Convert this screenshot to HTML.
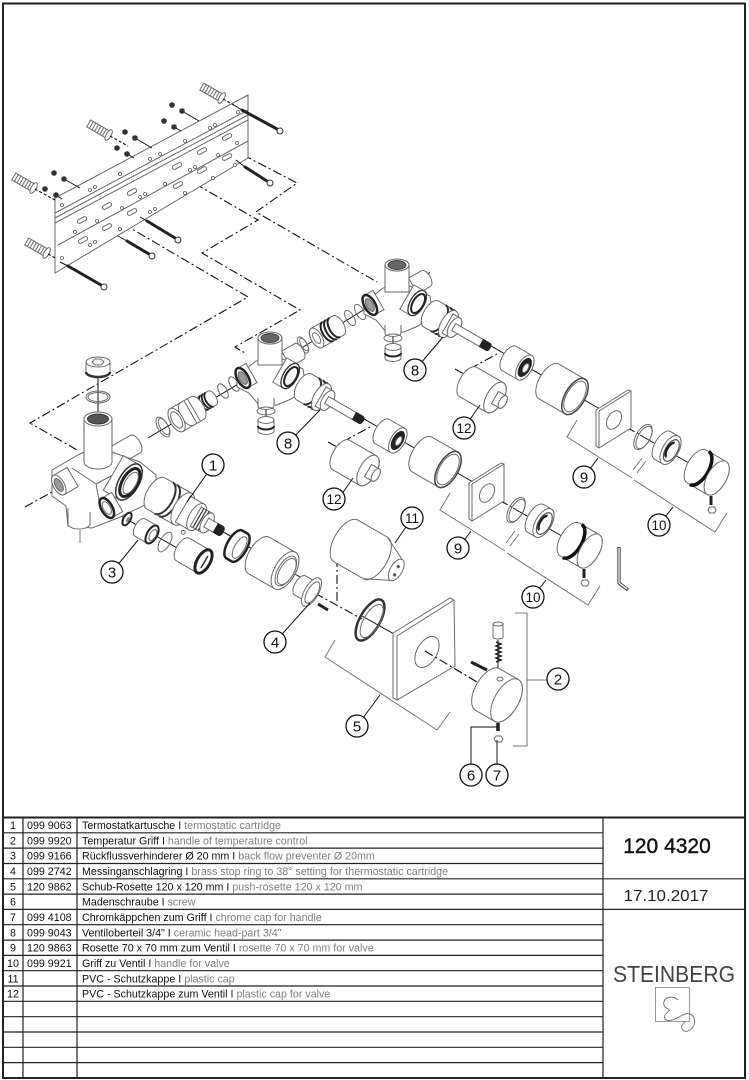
<!DOCTYPE html>
<html><head><meta charset="utf-8"><style>
html,body{margin:0;padding:0;background:#fff}
svg{display:block}
.o{fill:#fff;stroke:#6a6a6a;stroke-width:1}
.n{fill:none;stroke:#6a6a6a;stroke-width:1}
.d{fill:none;stroke:#111;stroke-width:1.1;stroke-dasharray:9 3 2 3}
.k{fill:none;stroke:#111;stroke-width:1}
.g{fill:none;stroke:#777;stroke-width:1}
.c circle{fill:#fff;stroke:#111;stroke-width:1.3}
.c text{font-family:"Liberation Sans",Arial,sans-serif;font-size:15px;fill:#111;text-anchor:middle}
.c text.s{font-size:13.5px}
.t{font-family:"Liberation Sans",Arial,sans-serif;font-size:10.7px;fill:#111}
.e{fill:#808080}
</style></head><body>
<svg width="749" height="1080" viewBox="0 0 749 1080" xmlns="http://www.w3.org/2000/svg">
<rect x="0" y="0" width="749" height="1080" fill="#fff"/>

<!-- ===== dashed routing lines ===== -->
<path class="d" d="M228,147 L297,183 L256,212 L377,282"/>
<path class="d" d="M180,175 L258,220 L202,253 L300,310 L235,347 L245,353"/>
<path class="d" d="M108,215 L248,297 L30,423 L77,450"/>
<path class="d" d="M25,507 L52,492"/>
<path class="d" d="M422,277 L431,272"/>
<path class="d" d="M347,540 L337,535 L337,603"/>
<path class="d" d="M300,585 L362,619"/>
<path class="d" d="M425,651 L482,685"/>

<!-- axis lines -->
<path class="k" d="M140,483 L300,577 M362,616 L428,653"/>
<path class="k" d="M107,508 L200,561"/>
<path class="k" d="M148,438 L245,380"/>
<path class="k" d="M295,352 L370,306"/>
<path class="k" d="M98,367 V420"/>

<!-- ===== wall bracket ===== -->
<path class="o" d="M55,198 L248,95 L248,158 L55,273 Z"/>
<path class="n" d="M55,213 L248,110 M55,218 L248,115 M55,223 L248,120 M58,245 L248,141"/>
<g class="o">
<rect x="-5" y="-2" width="10" height="4" rx="2" transform="translate(227,137) rotate(-28)"/>
<rect x="-5" y="-2" width="10" height="4" rx="2" transform="translate(202,151) rotate(-28)"/>
<rect x="-5" y="-2" width="10" height="4" rx="2" transform="translate(177,166) rotate(-28)"/>
<rect x="-5" y="-2" width="10" height="4" rx="2" transform="translate(132,192) rotate(-28)"/>
<rect x="-5" y="-2" width="10" height="4" rx="2" transform="translate(107,206) rotate(-28)"/>
<rect x="-5" y="-2" width="10" height="4" rx="2" transform="translate(82,220) rotate(-28)"/>
<rect x="-5" y="-2" width="10" height="4" rx="2" transform="translate(227,157) rotate(-28)"/>
<rect x="-5" y="-2" width="10" height="4" rx="2" transform="translate(202,170) rotate(-28)"/>
<rect x="-5" y="-2" width="10" height="4" rx="2" transform="translate(178,185) rotate(-28)"/>
<rect x="-5" y="-2" width="10" height="4" rx="2" transform="translate(132,212) rotate(-28)"/>
<rect x="-5" y="-2" width="10" height="4" rx="2" transform="translate(107,227) rotate(-28)"/>
<rect x="-5" y="-2" width="10" height="4" rx="2" transform="translate(83,240) rotate(-28)"/>
</g>
<g fill="#fff" stroke="#555" stroke-width="0.8">
<circle cx="62" cy="205" r="1.5"/><circle cx="90" cy="190" r="1.5"/><circle cx="95" cy="187" r="1.5"/><circle cx="120" cy="174" r="1.5"/><circle cx="150" cy="159" r="1.5"/><circle cx="160" cy="154" r="1.5"/><circle cx="185" cy="141" r="1.5"/><circle cx="210" cy="128" r="1.5"/><circle cx="215" cy="125" r="1.5"/><circle cx="238" cy="112" r="1.5"/>
<circle cx="75" cy="232" r="1.5"/><circle cx="97" cy="221" r="1.5"/><circle cx="122" cy="208" r="1.5"/><circle cx="140" cy="197" r="1.5"/><circle cx="145" cy="194" r="1.5"/><circle cx="165" cy="184" r="1.5"/><circle cx="190" cy="170" r="1.5"/><circle cx="195" cy="167" r="1.5"/><circle cx="218" cy="155" r="1.5"/><circle cx="237" cy="143" r="1.5"/>
<circle cx="62" cy="258" r="1.5"/><circle cx="90" cy="245" r="1.5"/><circle cx="95" cy="242" r="1.5"/><circle cx="120" cy="229" r="1.5"/><circle cx="150" cy="212" r="1.5"/><circle cx="155" cy="209" r="1.5"/><circle cx="185" cy="193" r="1.5"/><circle cx="213" cy="178" r="1.5"/><circle cx="235" cy="165" r="1.5"/>
</g>

<!-- screws -->
<path class="k" d="M232,104 L242,110 M236,160 L245,167 M140,217 L147,221 M118,236 L127,241 M60,262 L68,266"/>
<path d="M242,110 L277,129 M245,167 L267,181 M147,221 L175,238 M127,241 L149,254 M68,266 L101,285" stroke="#222" stroke-width="3" stroke-linecap="round" fill="none"/>
<g fill="#fff" stroke="#333" stroke-width="1">
<circle cx="280" cy="131" r="3"/><circle cx="270" cy="183" r="3"/><circle cx="178" cy="240" r="3"/><circle cx="152" cy="256" r="3"/><circle cx="104" cy="287" r="3"/>
</g>
<!-- nuts -->
<path class="k" d="M182,111 L199,121 M174,127 L181,131 M135,138 L152,148 M127,154 L134,158 M64,179 L80,188 M56,195 L62,199"/>
<g fill="#333">
<circle cx="172" cy="105" r="2.8"/><circle cx="182" cy="111" r="2.8"/>
<circle cx="164" cy="121" r="2.8"/><circle cx="174" cy="127" r="2.8"/>
<circle cx="125" cy="132" r="2.8"/><circle cx="135" cy="138" r="2.8"/>
<circle cx="117" cy="148" r="2.8"/><circle cx="127" cy="154" r="2.8"/>
<circle cx="54" cy="173" r="2.8"/><circle cx="64" cy="179" r="2.8"/>
<circle cx="45" cy="189" r="2.8"/><circle cx="56" cy="195" r="2.8"/>
</g>
<!-- anchors -->
<g class="o" transform="translate(213,93) rotate(30)"><rect x="-13" y="-4" width="22" height="8"/><path class="n" d="M-10,-4V4M-7,-4V4M-4,-4V4M-1,-4V4M2,-4V4M5,-4V4"/><ellipse cx="10" rx="2.5" ry="6"/></g>
<g class="o" transform="translate(100,130) rotate(30)"><rect x="-13" y="-4" width="22" height="8"/><path class="n" d="M-10,-4V4M-7,-4V4M-4,-4V4M-1,-4V4M2,-4V4M5,-4V4"/><ellipse cx="10" rx="2.5" ry="6"/></g>
<g class="o" transform="translate(25,183) rotate(30)"><rect x="-13" y="-4" width="22" height="8"/><path class="n" d="M-10,-4V4M-7,-4V4M-4,-4V4M-1,-4V4M2,-4V4M5,-4V4"/><ellipse cx="10" rx="2.5" ry="6"/></g>
<g class="o" transform="translate(38,248) rotate(30)"><rect x="-13" y="-4" width="22" height="8"/><path class="n" d="M-10,-4V4M-7,-4V4M-4,-4V4M-1,-4V4M2,-4V4M5,-4V4"/><ellipse cx="10" rx="2.5" ry="6"/></g>
<path class="d" d="M223,99 L234,105 M110,136 L128,146 M35,189 L55,200 M48,254 L57,259" style="stroke-dasharray:3 2"/>

<!-- ===== left thermostat body ===== -->
<g class="o">
<path transform="translate(125,450) rotate(-30)" d="M-14,-10 H12 A5,10 0 0 1 12,10 H-14 Z"/>
<path d="M52,470 L78,455 L84,452 L112,452 L140,462 L156,475 L156,492 L145,505 L118,518 L92,528 L68,526 L66,506 L52,496 Z"/>
<path class="n" d="M72,468 L96,484 L100,505 M96,484 L122,470"/>
<path d="M84,419 V462 A14,7 0 0 0 112,462 V419 Z"/>
<ellipse cx="98" cy="419" rx="14" ry="7"/>
<ellipse cx="98" cy="419" rx="10.5" ry="5" style="fill:#555;stroke:#333"/>
<g transform="translate(64,482) rotate(-30) scale(-1,1)"><path d="M-10,-11 H6 A5.5,11 0 0 1 6,11 H-10 Z"/><ellipse cx="6" rx="5.5" ry="11"/><ellipse cx="6" rx="3.5" ry="7" style="fill:#999"/></g>
<g transform="translate(122,478) rotate(30)"><path d="M-10,-20 H8 A10,20 0 0 1 8,20 H-10 Z"/><ellipse cx="8" rx="10" ry="20" style="stroke:#333;stroke-width:1.5"/><ellipse cx="9" rx="7.5" ry="15.5" style="fill:none;stroke:#222;stroke-width:3"/><ellipse cx="10" rx="5.5" ry="12" class="n"/></g>
<g transform="translate(112,505) rotate(-30) scale(-1,1)"><path d="M-6,-11 H6 A5.5,11 0 0 1 6,11 H-6 Z"/><ellipse cx="6" rx="5.5" ry="11" style="stroke:#222;stroke-width:2.5"/><ellipse cx="6" rx="3.5" ry="7"/></g>
<path d="M68,508 V524 A11,5 0 0 0 90,524 V512"/>
</g>
<path class="g" d="M80,530 V543"/>
<!-- top cap and ring -->
<g class="o">
<path d="M86,362 V372 A12,5 0 0 0 110,372 V362 Z"/>
<ellipse cx="98" cy="362" rx="12" ry="5"/>
<path d="M92,362 L95,359 L101,359 L104,362 L101,365 L95,365 Z"/>
<path d="M86,372 A12,5 0 0 0 110,372" style="fill:none;stroke:#333;stroke-width:2.5"/>
</g>
<ellipse cx="98" cy="397" rx="12" ry="6" class="n"/>
<ellipse cx="98" cy="397" rx="10" ry="4.5" class="n"/>

<!-- chain E (left body to mid body) -->
<ellipse class="n" transform="translate(163,427) rotate(-30)" rx="5" ry="11"/>
<ellipse class="n" transform="translate(164,426.5) rotate(-30)" rx="4" ry="9"/>
<g class="o" transform="translate(207,401) rotate(-30) scale(-1,1)"><path d="M-6,-8H6A4,8 0 0 1 6,8H-6A4,8 0 0 1 -6,-8Z"/><path d="M-3,-8A4,8 0 0 1 -3,8M0,-8A4,8 0 0 1 0,8M3,-8A4,8 0 0 1 3,8" style="fill:none;stroke:#222;stroke-width:1.8"/></g>
<g class="o" transform="translate(187,414) rotate(-30) scale(-1,1)"><path d="M-12,-13H12A6.5,13 0 0 1 12,13H-12A6.5,13 0 0 1 -12,-13Z"/><path class="n" d="M-4,-13V13M-8,-13V13M0,-13A6.5,13 0 0 1 0,13"/><ellipse cx="12" rx="6.5" ry="13"/><ellipse cx="12" rx="4.5" ry="9"/></g>
<ellipse class="n" transform="translate(223,391) rotate(-30)" rx="4" ry="8"/>
<ellipse class="n" transform="translate(234,384) rotate(-30)" rx="4" ry="8"/>

<!-- chain F (mid body to upper right body) -->
<ellipse class="n" transform="translate(303,345) rotate(-30)" rx="4" ry="9"/>
<ellipse class="n" transform="translate(304,344.5) rotate(-30)" rx="3" ry="7"/>
<g class="o" transform="translate(327,332) rotate(-30) scale(-1,1)"><path d="M-13,-11H12A5.5,11 0 0 1 12,11H-13A5.5,11 0 0 1 -13,-11Z"/><path d="M-9,-11A5.5,11 0 0 1 -9,11M-5,-11A5.5,11 0 0 1 -5,11M-1,-11A5.5,11 0 0 1 -1,11" style="fill:none;stroke:#222;stroke-width:2"/><ellipse cx="12" rx="5.5" ry="11"/><ellipse cx="12" rx="3" ry="6"/></g>
<ellipse class="n" transform="translate(350,318) rotate(-30)" rx="4" ry="8.5"/>
<ellipse class="n" transform="translate(360,312) rotate(-30)" rx="4" ry="8.5"/>

<!-- ===== valve unit (upper right), duplicated for mid ===== -->
<g id="V">
<path class="k" d="M393,320 V352"/>
<path class="k" d="M417,303 L600,409 M640,435 L708,474"/>
<path class="d" d="M612,419 L642,436"/>
<path class="d" d="M455,369 L462,373 L497,354"/>
<g class="o">
<path transform="translate(420,282) rotate(-30)" d="M-8,-9 H7 A4.5,9 0 0 1 7,9 H-8Z"/>
<path d="M364,303 L383,288 L410,286 L430,296 L433,316 L418,326 L404,332 L386,332 L376,320 L364,314 Z"/>
<path d="M385,265 V292 H409 V265 Z"/>
<ellipse cx="397" cy="265" rx="12" ry="6"/>
<ellipse cx="397" cy="265" rx="9" ry="4.5" style="fill:#666;stroke:#444"/>
<g transform="translate(412,300) rotate(30)"><path d="M-6,-14 H6 A7,14 0 0 1 6,14 H-6Z"/><ellipse cx="6" rx="7" ry="14" style="stroke:#333;stroke-width:1.3"/><ellipse cx="7" rx="5.3" ry="10.5" style="fill:none;stroke:#222;stroke-width:2"/></g>
<g transform="translate(375,302) rotate(-30) scale(-1,1)"><path d="M-4,-11 H6 A5.5,11 0 0 1 6,11 H-4Z"/><ellipse cx="6" rx="5.5" ry="11" style="stroke:#222;stroke-width:2.5"/><ellipse cx="6" rx="3.5" ry="7" style="fill:#999"/></g>
<path d="M385,325 V333 A8,3.5 0 0 0 401,333 V325"/>
</g>
<ellipse cx="393" cy="338" rx="9" ry="4" class="n"/>
<g class="o"><path d="M385,347 V358 A8,3.5 0 0 0 401,358 V347Z"/><ellipse cx="393" cy="347" rx="8" ry="3.5"/><path d="M385,353 A8,3.5 0 0 0 401,353" style="fill:none;stroke:#222;stroke-width:2"/></g>
<!-- cartridge 8 -->
<g class="o" transform="translate(445,322) rotate(30)">
<path d="M-16,-15H4A7.5,15 0 0 1 4,15H-16A7.5,15 0 0 1 -16,-15Z"/>
<path d="M-8,-15A7.5,15 0 0 1 -8,15M-3,-15A7.5,15 0 0 1 -3,15M1,-15A7.5,15 0 0 1 1,15" style="fill:none;stroke:#333;stroke-width:2"/>
<ellipse cx="4" rx="7.5" ry="15"/>
<path d="M3,-11H11A5.5,11 0 0 1 11,11H3Z"/>
<ellipse cx="11" rx="5.5" ry="11"/>
<path d="M10,-4H50A2,4 0 0 1 50,4H10Z"/>
<path d="M42,-4H50A2,4 0 0 1 50,4H42Z" style="fill:#222;stroke:#222"/>
</g>
<!-- nut -->
<g class="o" transform="translate(517,363) rotate(30)"><path d="M-9,-14H9A7,14 0 0 1 9,14H-9A7,14 0 0 1 -9,-14Z"/><ellipse cx="9" rx="7" ry="14"/><ellipse cx="9" rx="5" ry="10" style="fill:#222;stroke:#222"/><ellipse cx="10" rx="2.5" ry="5"/></g>
<!-- sleeve -->
<g class="o" transform="translate(562,389) rotate(30)"><path d="M-15,-20H15A10,20 0 0 1 15,20H-15A10,20 0 0 1 -15,-20Z"/><ellipse cx="15" rx="10" ry="20" style="stroke:#444;stroke-width:1.5"/><ellipse cx="15" rx="8.5" ry="17" class="n"/></g>
<!-- PVC cap 12 -->
<g class="o" transform="translate(482,390) rotate(30)"><path d="M-16,-17H15A8.5,17 0 0 1 15,17H-16A8.5,17 0 0 1 -16,-17Z"/><ellipse cx="15" rx="8.5" ry="17" class="n"/><path d="M15,-7H24A3.5,7 0 0 1 24,7H15Z"/><ellipse cx="24" rx="3.5" ry="7"/></g>
<!-- rosette 9 -->
<path class="o" d="M596,410 L628,390 L631,391 L631,428 L599,448 L596,446 Z"/>
<path class="n" d="M599,411 L631,391 M599,411 L599,448"/>
<ellipse class="o" transform="translate(614,420) rotate(30)" rx="6.5" ry="10"/>
<!-- ring -->
<ellipse class="n" transform="translate(643,437) rotate(30)" rx="7" ry="14"/>
<ellipse class="n" transform="translate(644,437.5) rotate(30)" rx="6" ry="12.5"/>
<!-- escutcheon -->
<g class="o" transform="translate(667,448) rotate(30)"><path d="M-5,-16H4A8,16 0 0 1 4,16H-5A8,16 0 0 1 -5,-16Z"/><ellipse cx="4" rx="8" ry="16"/><ellipse cx="5" rx="6" ry="12" style="stroke:#555;stroke-width:1.2"/><path d="M4,-8 A3.5,8 0 0 0 4,8" style="fill:none;stroke:#222;stroke-width:2.5"/></g>
<!-- handle 10 -->
<g class="o" transform="translate(708,473) rotate(30)"><path d="M-13,-19H10A9.5,19 0 0 1 10,19H-13A9.5,19 0 0 1 -13,-19Z"/><path d="M-10,-19A9.5,19 0 0 1 -10,19" style="fill:none;stroke:#111;stroke-width:3.5"/><ellipse cx="10" rx="9.5" ry="19"/></g>
<path d="M711,496 V505" stroke="#222" stroke-width="3"/>
<path class="o" d="M709.5,507 L714.5,507 L716,510 L714.5,513 L709.5,513 L708,510 Z"/>
<!-- brackets 9/10 -->
<path class="g" d="M577,420 L567,437 L632,478 M633,470 L642,458 M637,473 L646,461 M634,480 L715,532 L727,513"/>
</g>
<use href="#V" transform="translate(-127,73)"/>

<!-- ===== thermostat chain (A) ===== -->
<g class="o" transform="translate(188,512) rotate(30)">
<path d="M-37,-18H-6A9,18 0 0 1 -6,18H-37A9,18 0 0 1 -37,-18Z"/>
<path d="M-28,-18A9,18 0 0 1 -28,18M-23,-18A9,18 0 0 1 -23,18" style="fill:none;stroke:#333;stroke-width:2"/>
<ellipse cx="-6" rx="9" ry="18"/>
<path d="M-6,-15H10A7.5,15 0 0 1 10,15H-6Z"/>
<ellipse cx="10" rx="7.5" ry="15"/>
<path d="M9,-11H22A5.5,11 0 0 1 22,11H9Z"/>
<path d="M12,-11V11M15,-11V11M18,-11V11" style="fill:none;stroke:#333;stroke-width:1.2"/>
<ellipse cx="22" rx="5.5" ry="11"/>
<path d="M21,-5H38A2.5,5 0 0 1 38,5H21Z"/>
<path d="M32,-5H38A2.5,5 0 0 1 38,5H32Z" style="fill:#222;stroke:#222"/>
<circle cx="6" cy="20" r="2"/>
</g>
<g transform="translate(237,546) rotate(30)"><path class="o" d="M-3,-16H3A7,16 0 0 1 3,16H-3A7,16 0 0 1 -3,-16Z" style="stroke:#222;stroke-width:2.5"/><ellipse cx="3" rx="5" ry="12" class="o"/></g>
<g class="o" transform="translate(272,563) rotate(30)"><path d="M-15,-21H15A10.5,21 0 0 1 15,21H-15A10.5,21 0 0 1 -15,-21Z"/><ellipse cx="15" rx="10.5" ry="21"/><ellipse cx="16" rx="8" ry="16.5"/><ellipse cx="17" rx="7" ry="14.5" class="n"/></g>
<g class="o" transform="translate(308,590) rotate(30)"><path d="M-9,-11H2A5.5,11 0 0 1 2,11H-9A5.5,11 0 0 1 -9,-11Z"/><ellipse cx="4" rx="7" ry="16"/><ellipse cx="5" rx="5" ry="12"/></g>
<path d="M318,604 L328,610" stroke="#222" stroke-width="3"/>
<g transform="translate(370,620) rotate(30)"><ellipse rx="10" ry="23" fill="none" stroke="#333" stroke-width="2.5"/><ellipse cx="2" rx="8" ry="18.5" class="n"/></g>
<!-- rosette 5 -->
<path class="o" d="M393,633 L450,598 L454,600 L455,666 L397,700 L393,698 Z"/>
<path class="n" d="M397,636 L454,600 M397,636 L397,700"/>
<ellipse class="n" transform="translate(427,652) rotate(30)" rx="10" ry="17"/>
<path class="d" d="M425,651 L482,685"/>
<!-- handle 2 -->
<path class="k" d="M498,640 V680"/>
<g class="o" transform="translate(497,695) rotate(30)"><path d="M-11,-24H11A12,24 0 0 1 11,24H-11A12,24 0 0 1 -11,-24Z"/><ellipse cx="11" rx="12" ry="24"/></g>
<ellipse class="o" cx="500" cy="679" rx="3" ry="2"/>
<path class="o" d="M493,624 V637 A5,2 0 0 0 503,637 V624 Z"/>
<ellipse class="o" cx="498" cy="624" rx="5" ry="2"/>
<path d="M496,642 L501,644 L496,646 L501,648 L496,650 L501,652 L496,654 L501,656 L496,658 L501,660 L496,662" stroke="#222" stroke-width="1.5" fill="none"/>
<path d="M471,662 L487,670" stroke="#222" stroke-width="3"/>
<path d="M498,723 V731" stroke="#222" stroke-width="3.5"/>
<path class="o" d="M496,736 L501,736 L503,739 L501,742 L496,742 L494,739 Z"/>
<!-- PVC cap 11 -->
<g class="o" transform="translate(372,556) rotate(30)">
<path d="M-30,-24 H4 L28,-12 L28,12 L4,24 H-30 A12,24 0 0 1 -30,-24 Z"/>
<path class="n" d="M4,-24 A12,24 0 0 1 4,24"/>
<ellipse cx="28" rx="6" ry="12"/>
<circle cx="28" cy="-4" r="1.2" style="fill:#333"/><circle cx="29" cy="5" r="1.2" style="fill:#333"/>
</g>

<!-- back-flow chain (3) -->
<g transform="translate(127,519) rotate(30)"><ellipse rx="3.5" ry="7" fill="#fff" stroke="#222" stroke-width="2"/><ellipse cx="1" rx="1.5" ry="3" fill="#888"/></g>
<g class="o" transform="translate(146,531) rotate(30)"><path d="M-7,-10H7A5,10 0 0 1 7,10H-7A5,10 0 0 1 -7,-10Z"/><ellipse cx="7" rx="5" ry="10" style="stroke:#222;stroke-width:2"/><ellipse cx="8" rx="3" ry="6"/></g>
<ellipse class="n" transform="translate(165,542) rotate(30)" rx="5" ry="11"/>
<g class="o" transform="translate(194,556) rotate(30)"><path d="M-13,-13H11A6.5,13 0 0 1 11,13H-13A6.5,13 0 0 1 -13,-13Z"/><ellipse cx="11" rx="6.5" ry="13" style="stroke:#222;stroke-width:3"/><path d="M12,-7 L12,7" style="fill:none;stroke:#333;stroke-width:1.5"/></g>

<!-- brackets 5 and 2 -->
<path class="g" d="M335,640 L325,657 L437,730 L450,712"/>
<path class="g" d="M515,613 H527 V746 H513 M527,680 H547"/>

<!-- allen key -->
<path d="M619,547 V583 L628,590" stroke="#555" stroke-width="3.5" fill="none" stroke-linejoin="round"/>
<path d="M619,548 V583 L627,589" stroke="#fff" stroke-width="1.2" fill="none"/>

<!-- ===== leader lines ===== -->
<path class="k" d="M213,465 L187,502 M112,572 L138,540 M275,642 L310,603 M288,443 L320,410 M415,370 L443,337 M464,428 L480,405 M337,501 L353,478 M412,518 L395,543 M584,477 L598,458 M457,550 L471,531 M659,525 L673,507 M532,598 L546,580 M357,726 L380,695 M471,764 V727 H497 M497,764 V740"/>

<!-- ===== callouts ===== -->
<g class="c">
<circle cx="213" cy="465" r="11"/><text x="213" y="470.5">1</text>
<circle cx="558" cy="679" r="11"/><text x="558" y="684.5">2</text>
<circle cx="112" cy="572" r="11"/><text x="112" y="577.5">3</text>
<circle cx="275" cy="642" r="11"/><text x="275" y="647.5">4</text>
<circle cx="357" cy="726" r="11"/><text x="357" y="731.5">5</text>
<circle cx="471" cy="775" r="11"/><text x="471" y="780.5">6</text>
<circle cx="497" cy="775" r="11"/><text x="497" y="780.5">7</text>
<circle cx="415" cy="370" r="11"/><text x="415" y="375.5">8</text>
<circle cx="288" cy="443" r="11"/><text x="288" y="448.5">8</text>
<circle cx="584" cy="477" r="11"/><text x="584" y="482.5">9</text>
<circle cx="458" cy="548" r="11"/><text x="458" y="553.5">9</text>
<circle cx="659" cy="525" r="11"/><text class="s" x="659" y="530">10</text>
<circle cx="533" cy="597" r="11"/><text class="s" x="533" y="602">10</text>
<circle cx="412" cy="518" r="11"/><text class="s" x="412" y="523">11</text>
<circle cx="464" cy="428" r="11"/><text class="s" x="464" y="433">12</text>
<circle cx="334" cy="499" r="11"/><text class="s" x="334" y="504">12</text>
</g>

<!-- ===== table ===== -->
<g stroke="#222" stroke-width="1.2" fill="none">
<path d="M3,832.8 H603 M3,848.1 H603 M3,863.5 H603 M3,894.1 H603 M3,924.7 H603 M3,940.1 H603 M3,955.4 H603 M3,970.7 H603 M3,986 H603 M3,1001.3 H603 M3,1016.7 H603 M3,1032 H603 M3,1047.3 H603 M3,1062.6 H603"/>
<path d="M3,878.8 H745 M3,909.4 H745"/>
<path d="M23,817.5 V1078 M77,817.5 V1078 M603,817.5 V1078"/>
</g>
<path d="M3,817.5 H745" stroke="#222" stroke-width="2" fill="none"/>
<rect x="3" y="3.5" width="742" height="1074.5" fill="none" stroke="#222" stroke-width="2"/>

<g class="t">
<text x="13" y="829.1" text-anchor="middle">1</text><text x="27" y="829.1">099 9063</text><text x="82" y="829.1">Termostatkartusche I <tspan class="e">termostatic cartridge</tspan></text>
<text x="13" y="844.4" text-anchor="middle">2</text><text x="27" y="844.4">099 9920</text><text x="82" y="844.4">Temperatur Griff I <tspan class="e">handle of temperature control</tspan></text>
<text x="13" y="859.7" text-anchor="middle">3</text><text x="27" y="859.7">099 9166</text><text x="82" y="859.7">Rückflussverhinderer Ø 20 mm I <tspan class="e">back flow preventer Ø 20mm</tspan></text>
<text x="13" y="875.1" text-anchor="middle">4</text><text x="27" y="875.1">099 2742</text><text x="82" y="875.1">Messinganschlagring I <tspan class="e">brass stop ring to 38° setting for thermostatic cartridge</tspan></text>
<text x="13" y="890.4" text-anchor="middle">5</text><text x="27" y="890.4">120 9862</text><text x="82" y="890.4">Schub-Rosette 120 x 120 mm I <tspan class="e">push-rosette 120 x 120 mm</tspan></text>
<text x="13" y="905.7" text-anchor="middle">6</text><text x="82" y="905.7">Madenschraube I <tspan class="e">screw</tspan></text>
<text x="13" y="921" text-anchor="middle">7</text><text x="27" y="921">099 4108</text><text x="82" y="921">Chromkäppchen zum Griff I <tspan class="e">chrome cap for handle</tspan></text>
<text x="13" y="936.3" text-anchor="middle">8</text><text x="27" y="936.3">099 9043</text><text x="82" y="936.3">Ventiloberteil 3/4" I <tspan class="e">ceramic head-part 3/4"</tspan></text>
<text x="13" y="951.7" text-anchor="middle">9</text><text x="27" y="951.7">120 9863</text><text x="82" y="951.7">Rosette 70 x 70 mm zum Ventil I <tspan class="e">rosette 70 x 70 mm for valve</tspan></text>
<text x="13" y="967" text-anchor="middle">10</text><text x="27" y="967">099 9921</text><text x="82" y="967">Griff zu Ventil I <tspan class="e">handle for valve</tspan></text>
<text x="13" y="982.3" text-anchor="middle">11</text><text x="82" y="982.3">PVC - Schutzkappe I <tspan class="e">plastic cap</tspan></text>
<text x="13" y="997.6" text-anchor="middle">12</text><text x="82" y="997.6">PVC - Schutzkappe zum Ventil I <tspan class="e">plastic cap for valve</tspan></text>
</g>

<text x="667" y="853" text-anchor="middle" font-family="Liberation Sans, Arial, sans-serif" font-size="21" fill="#111" stroke="#111" stroke-width="0.4">120 4320</text>
<text x="666" y="901" text-anchor="middle" font-family="Liberation Sans, Arial, sans-serif" font-size="16" fill="#222" textLength="85" lengthAdjust="spacingAndGlyphs">17.10.2017</text>
<text x="613" y="982" font-family="Liberation Sans, Arial, sans-serif" font-size="23" fill="#444" textLength="122" lengthAdjust="spacingAndGlyphs">STEINBERG</text>
<rect x="655.5" y="987.5" width="34" height="34" fill="none" stroke="#999" stroke-width="1"/>
<path d="M678,1000 C672,994 662,998 664,1005 C665,1010 672,1008 668,1012 C662,1016 664,1022 672,1020 C680,1018 684,1012 690,1014 C697,1017 696,1028 688,1031 C682,1033 679,1026 685,1022" fill="none" stroke="#777" stroke-width="1"/>
</svg>
</body></html>
